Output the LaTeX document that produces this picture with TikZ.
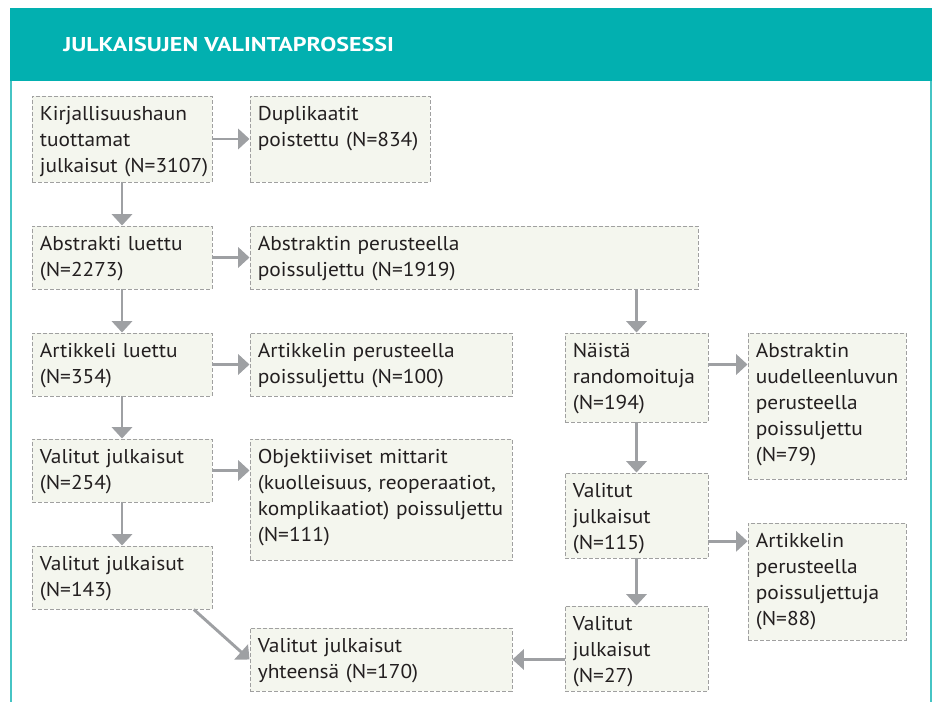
\documentclass[tikz,border=0pt]{standalone}
\usepackage{fontspec}
\setmainfont{PT Sans}[FakeStretch=1.07]
\newfontfamily\titlefont{PT Sans}[FakeStretch=1.2]
\usetikzlibrary{arrows.meta,fit,calc}
\definecolor{teal1}{RGB}{2,176,176}
\definecolor{tealline}{RGB}{70,196,196}
\definecolor{boxfill}{RGB}{244,246,238}
\definecolor{boxline}{RGB}{160,160,160}
\definecolor{arrgray}{RGB}{158,160,163}
\definecolor{txtcol}{RGB}{35,31,32}
\tikzset{
  box/.style={draw=boxline, fill=boxfill, dash pattern=on 3pt off 1.5pt, line width=0.7pt, inner sep=0pt, rectangle},
  txt/.style={anchor=base west, inner sep=0pt, align=left, text=txtcol,
    font=\fontsize{15}{19.5}\selectfont},
  arr/.style={draw=arrgray, line width=2.2pt, -{Triangle[width=15pt,length=8.5pt]}, shorten >=0pt}
}
\begin{document}
\begin{tikzpicture}[x=0.75pt,y=-0.75pt]
\useasboundingbox (0,0) rectangle (932,702);
% header
\fill[teal1] (10,8) rectangle (932,81);
\node[anchor=base west, inner sep=0pt, text=white, font=\titlefont\bfseries\fontsize{15}{18}\selectfont] (title) at (63,52) {JULKAISUJEN VALINTAPROSESSI};
\draw[tealline, line width=1.5pt] (11,81) -- (11,702);
\draw[tealline, line width=1.2pt] (931,81) -- (931,702);

% boxes
\node[box, fit={(32,96) (212,182)}] (b1) {};
\node[box, fit={(250,96) (430,182)}] (b2) {};
\node[box, fit={(32,226) (212,289)}] (b3) {};
\node[box, fit={(250,226) (698,289)}] (b4) {};
\node[box, fit={(32,333) (212,396)}] (b5) {};
\node[box, fit={(250,333) (512,396)}] (b6) {};
\node[box, fit={(565,333) (708,422)}] (b7) {};
\node[box, fit={(748,333) (906,479)}] (b8) {};
\node[box, fit={(32,439) (212,502)}] (b9) {};
\node[box, fit={(250,439) (512,560)}] (b10) {};
\node[box, fit={(32,546) (212,609)}] (b11) {};
\node[box, fit={(250,628) (512,691)}] (b12) {};
\node[box, fit={(565,473) (708,558)}] (b13) {};
\node[box, fit={(748,523) (906,640)}] (b14) {};
\node[box, fit={(565,606) (708,691)}] (b15) {};

% texts
\node[txt, text width=130pt] (t1) at ([shift={(8,24.5)}]b1.north west) {Kirjallisuushaun\\tuottamat\\julkaisut (N=3107)};
\node[txt, text width=130pt] (t2) at ([shift={(8,24.5)}]b2.north west) {Duplikaatit\\poistettu (N=834)};
\node[txt, text width=130pt] (t3) at ([shift={(8,24.5)}]b3.north west) {Abstrakti luettu\\(N=2273)};
\node[txt, text width=320pt] (t4) at ([shift={(8,24.5)}]b4.north west) {Abstraktin perusteella\\poissuljettu (N=1919)};
\node[txt, text width=130pt] (t5) at ([shift={(8,24.5)}]b5.north west) {Artikkeli luettu\\(N=354)};
\node[txt, text width=192pt] (t6) at ([shift={(8,24.5)}]b6.north west) {Artikkelin perusteella\\poissuljettu (N=100)};
\node[txt, text width=104pt] (t7) at ([shift={(8,24.5)}]b7.north west) {Näistä\\randomoituja\\(N=194)};
\node[txt, text width=116pt] (t8) at ([shift={(8,24.5)}]b8.north west) {Abstraktin\\uudelleenluvun\\perusteella\\poissuljettu\\(N=79)};
\node[txt, text width=130pt] (t9) at ([shift={(8,24.5)}]b9.north west) {Valitut julkaisut\\(N=254)};
\node[txt, text width=192pt] (t10) at ([shift={(8,24.5)}]b10.north west) {Objektiiviset mittarit\\(kuolleisuus, reoperaatiot,\\komplikaatiot) poissuljettu\\(N=111)};
\node[txt, text width=130pt] (t11) at ([shift={(8,24.5)}]b11.north west) {Valitut julkaisut\\(N=143)};
\node[txt, text width=192pt] (t12) at ([shift={(8,24.5)}]b12.north west) {Valitut julkaisut\\yhteensä (N=170)};
\node[txt, text width=104pt] (t13) at ([shift={(8,24.5)}]b13.north west) {Valitut\\julkaisut\\(N=115)};
\node[txt, text width=116pt] (t14) at ([shift={(8,24.5)}]b14.north west) {Artikkelin\\perusteella\\poissuljettuja\\(N=88)};
\node[txt, text width=104pt] (t15) at ([shift={(8,24.5)}]b15.north west) {Valitut\\julkaisut\\(N=27)};

% arrows
\draw[arr] (b1.east) -- (b2.west);
\draw[arr] (b1.south) -- (b3.north);
\draw[arr] (b3.east) -- (b4.west);
\draw[arr] (b3.south) -- (b5.north);
\draw[arr] (b5.east) -- (b6.west);
\draw[arr] (b4.south -| b7.north) -- (b7.north);
\draw[arr] (b7.east |- b5.east) -- (b8.west |- b5.east);
\draw[arr] (b5.south) -- (b9.north);
\draw[arr] (b9.east) -- (b10.west |- b9.east);
\draw[arr] (b9.south) -- (b11.north);
\draw[arr] ([xshift=-14pt]b11.south east) -- (b12.west);
\draw[arr] (b7.south) -- (b13.north);
\coordinate (c13) at ($(b13.south east)!0.2!(b13.north east)$);
\draw[arr] (c13) -- (b14.west |- c13);
\draw[arr] (b13.south) -- (b15.north);
\draw[arr] (b15.west |- b12.east) -- (b12.east);
\end{tikzpicture}
\end{document}
